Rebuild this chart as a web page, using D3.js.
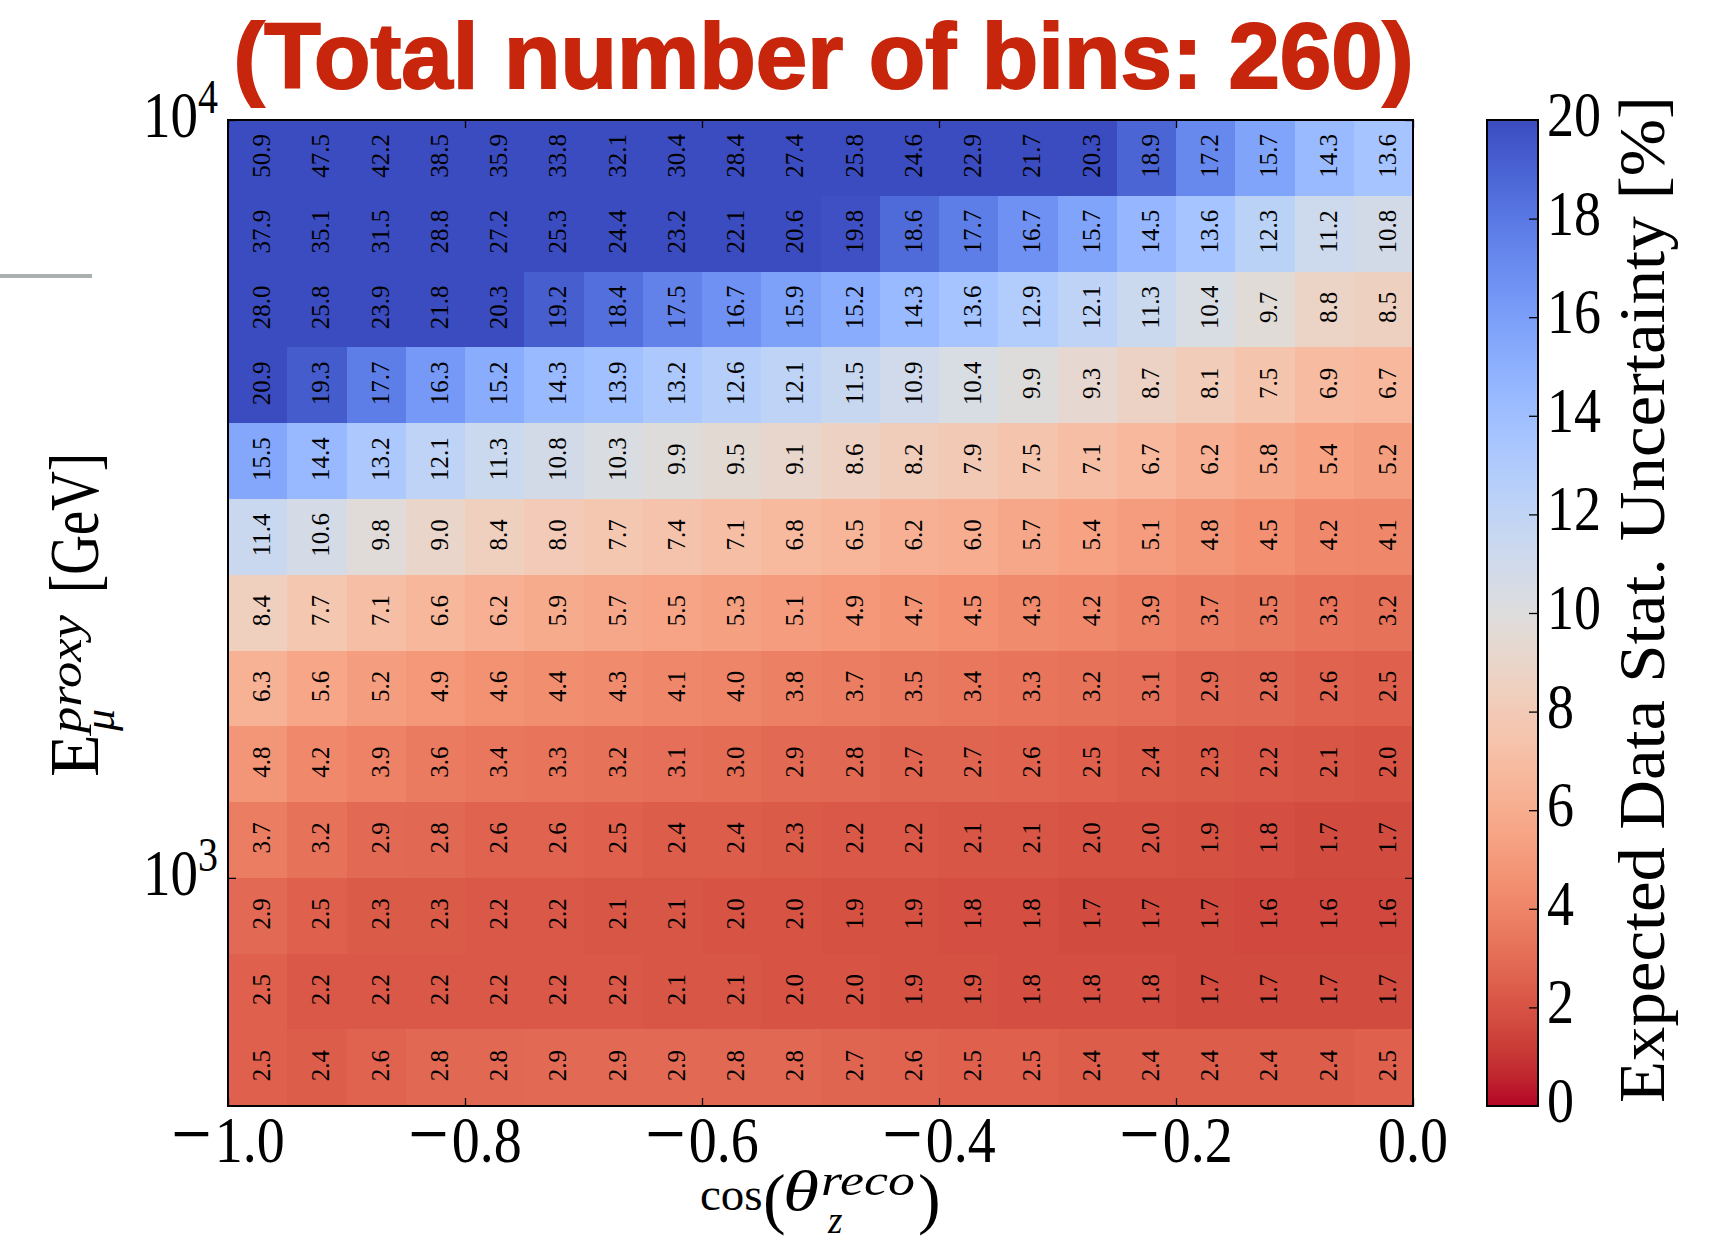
<!DOCTYPE html>
<html><head><meta charset="utf-8">
<script src="https://cdn.jsdelivr.net/npm/d3@7"></script>
<style>html,body{margin:0;padding:0;background:#fff;} svg{display:block}</style>
</head><body>
<svg id="chart" width="1712" height="1242"></svg>
<script>
// ---------------- DATA ----------------
const cosBinEdges = [-1.0,-0.95,-0.9,-0.85,-0.8,-0.75,-0.7,-0.65,-0.6,-0.55,-0.5,-0.45,-0.4,-0.35,-0.3,-0.25,-0.2,-0.15,-0.1,-0.05,0.0];
const energyBinEdges = [500,631,794,1000,1259,1585,1995,2512,3162,3981,5012,6310,7943,10000];
// rows listed from the highest energy bin (top) down to the lowest (bottom)
const statUncertainty = [
  [50.9,47.5,42.2,38.5,35.9,33.8,32.1,30.4,28.4,27.4,25.8,24.6,22.9,21.7,20.3,18.9,17.2,15.7,14.3,13.6],
  [37.9,35.1,31.5,28.8,27.2,25.3,24.4,23.2,22.1,20.6,19.8,18.6,17.7,16.7,15.7,14.5,13.6,12.3,11.2,10.8],
  [28.0,25.8,23.9,21.8,20.3,19.2,18.4,17.5,16.7,15.9,15.2,14.3,13.6,12.9,12.1,11.3,10.4,9.7,8.8,8.5],
  [20.9,19.3,17.7,16.3,15.2,14.3,13.9,13.2,12.6,12.1,11.5,10.9,10.4,9.9,9.3,8.7,8.1,7.5,6.9,6.7],
  [15.5,14.4,13.2,12.1,11.3,10.8,10.3,9.9,9.5,9.1,8.6,8.2,7.9,7.5,7.1,6.7,6.2,5.8,5.4,5.2],
  [11.4,10.6,9.8,9.0,8.4,8.0,7.7,7.4,7.1,6.8,6.5,6.2,6.0,5.7,5.4,5.1,4.8,4.5,4.2,4.1],
  [8.4,7.7,7.1,6.6,6.2,5.9,5.7,5.5,5.3,5.1,4.9,4.7,4.5,4.3,4.2,3.9,3.7,3.5,3.3,3.2],
  [6.3,5.6,5.2,4.9,4.6,4.4,4.3,4.1,4.0,3.8,3.7,3.5,3.4,3.3,3.2,3.1,2.9,2.8,2.6,2.5],
  [4.8,4.2,3.9,3.6,3.4,3.3,3.2,3.1,3.0,2.9,2.8,2.7,2.7,2.6,2.5,2.4,2.3,2.2,2.1,2.0],
  [3.7,3.2,2.9,2.8,2.6,2.6,2.5,2.4,2.4,2.3,2.2,2.2,2.1,2.1,2.0,2.0,1.9,1.8,1.7,1.7],
  [2.9,2.5,2.3,2.3,2.2,2.2,2.1,2.1,2.0,2.0,1.9,1.9,1.8,1.8,1.7,1.7,1.7,1.6,1.6,1.6],
  [2.5,2.2,2.2,2.2,2.2,2.2,2.2,2.1,2.1,2.0,2.0,1.9,1.9,1.8,1.8,1.8,1.7,1.7,1.7,1.7],
  [2.5,2.4,2.6,2.8,2.8,2.9,2.9,2.9,2.8,2.8,2.7,2.6,2.5,2.5,2.4,2.4,2.4,2.4,2.4,2.5]
];
const xTickValues = [-1.0,-0.8,-0.6,-0.4,-0.2,0.0];
const yTickValues = [1000,10000];
const colorbarTicks = [0,2,4,6,8,10,12,14,16,18,20];
const colorRange = [0,20];
const titleText = "(Total number of bins: 260)";
const colorbarLabel = "Expected Data Stat. Uncertainty [%]";
// matplotlib "coolwarm" anchor colours (blue -> red)
const coolwarm = ["#3b4cc0","#445acc","#4d68d7","#5775e1","#6282ea","#6c8ef1","#779af7","#82a5fb","#8db0fe","#98b9ff","#a3c2ff","#aec9fd","#b8d0f9","#c2d5f4","#ccd9ee","#d5dbe6","#dddddd","#e5d8d1","#ecd3c5","#f1ccb9","#f5c4ad","#f7bba0","#f7b194","#f7a687","#f49a7b","#f18d6f","#ec7f63","#e57058","#de604d","#d55042","#cb3e38","#c0282f","#b40426"];

// ---------------- LAYOUT ----------------
const L = 228, R = 1413, T = 120, B = 1106;
const svg = d3.select("#chart");
const serif = "'Liberation Serif', 'Times New Roman', serif";

const x = d3.scaleLinear().domain([-1, 0]).range([L, R]);
const y = d3.scaleLog().domain([energyBinEdges[0], energyBinEdges[energyBinEdges.length - 1]]).range([B, T]);

// coolwarm_r over [0,20]: value 20 -> blue, 0 -> red
const color = d3.scaleLinear()
  .domain(coolwarm.map((c, i) => colorRange[1] * (1 - i / (coolwarm.length - 1))))
  .range(coolwarm)
  .interpolate(d3.interpolateRgb)
  .clamp(true);

// ---------------- CELLS ----------------
const nRows = statUncertainty.length;
const cells = [];
statUncertainty.forEach((row, r) => {
  const eIdx = nRows - 1 - r;
  row.forEach((v, c) => {
    cells.push({v, x0: cosBinEdges[c], x1: cosBinEdges[c + 1], e0: energyBinEdges[eIdx], e1: energyBinEdges[eIdx + 1]});
  });
});

const gCells = svg.append("g").attr("shape-rendering", "crispEdges");
gCells.selectAll("rect").data(cells).join("rect")
  .attr("x", d => x(d.x0))
  .attr("y", d => y(d.e1))
  .attr("width", d => x(d.x1) - x(d.x0) + 0.5)
  .attr("height", d => y(d.e0) - y(d.e1) + 0.5)
  .attr("fill", d => color(d.v));

const fmt = d3.format(".1f");
svg.append("g").selectAll("text").data(cells).join("text")
  .attr("transform", d => {
    const cx = (x(d.x0) + x(d.x1)) / 2 + 4;
    const cy = (y(d.e0) + y(d.e1)) / 2 - 2;
    return `translate(${cx},${cy}) rotate(-90)`;
  })
  .attr("text-anchor", "middle")
  .attr("dominant-baseline", "central")
  .attr("font-family", serif)
  .attr("font-size", 25)
  .attr("fill", "#000")
  .text(d => fmt(d.v));

// ---------------- AXES (ticks) ----------------
function styleAxis(g) {
  g.select(".domain").remove();
  g.selectAll(".tick line").attr("stroke", "#000").attr("stroke-width", 1.3);
  g.selectAll(".tick text").remove();
}
svg.append("g").attr("transform", `translate(0,${B})`)
  .call(d3.axisBottom(x).tickValues(xTickValues).tickSize(-8).tickFormat("")).call(styleAxis);
svg.append("g").attr("transform", `translate(0,${T})`)
  .call(d3.axisTop(x).tickValues(xTickValues).tickSize(-8).tickFormat("")).call(styleAxis);
svg.append("g").attr("transform", `translate(${L},0)`)
  .call(d3.axisLeft(y).tickValues(yTickValues).tickSize(-8).tickFormat("")).call(styleAxis);
svg.append("g").attr("transform", `translate(${R},0)`)
  .call(d3.axisRight(y).tickValues(yTickValues).tickSize(-8).tickFormat("")).call(styleAxis);

svg.append("rect").attr("x", L).attr("y", T).attr("width", R - L).attr("height", B - T)
  .attr("fill", "none").attr("stroke", "#000").attr("stroke-width", 2);

// x tick labels
const xl = svg.append("g").selectAll("text").data(xTickValues).join("text")
  .attr("transform", d => `translate(${x(d)},${B + 56}) scale(1,1.17)`)
  .attr("text-anchor", "middle")
  .attr("font-family", serif)
  .attr("font-size", 56)
  .attr("fill", "#000");
xl.each(function(d) {
  const t = d3.select(this);
  if (d < 0) {
    t.append("tspan").attr("font-size", 72).text("\u2212");
    t.append("tspan").attr("dx", 3).text(Math.abs(d).toFixed(1));
  } else {
    t.append("tspan").text(d.toFixed(1));
  }
});

// y tick labels 10^n
const yl = svg.append("g").selectAll("text").data(yTickValues).join("text")
  .attr("transform", d => `translate(${L - 10},${y(d) + 17}) scale(1,1.2)`)
  .attr("text-anchor", "end")
  .attr("font-family", serif)
  .attr("fill", "#000");
yl.append("tspan").attr("font-size", 55).text("10");
yl.append("tspan").attr("font-size", 40).attr("dy", -20).text(d => Math.round(Math.log10(d)));

// y axis label
const yLab = svg.append("text")
  .attr("transform", `translate(98,777) rotate(-90)`)
  .attr("font-family", serif).attr("fill", "#000");
yLab.append("tspan").attr("x", 0).attr("y", 0).attr("font-size", 70).text("E");
yLab.append("tspan").attr("x", 44).attr("y", -17).attr("font-size", 46).attr("font-style", "italic")
  .attr("textLength", 118).attr("lengthAdjust", "spacingAndGlyphs").text("proxy");
yLab.append("tspan").attr("x", 46).attr("y", 16).attr("font-size", 44).attr("font-style", "italic").text("\u03bc");
yLab.append("tspan").attr("x", 184).attr("y", 0).attr("font-size", 70)
  .attr("textLength", 140).attr("lengthAdjust", "spacingAndGlyphs").text("[GeV]");

// x axis label  cos(θ_z^reco)
const xLab = svg.append("text").attr("font-family", serif).attr("fill", "#000");
xLab.append("tspan").attr("x", 700).attr("y", 1210).attr("font-size", 47).text("cos");
xLab.append("tspan").attr("x", 763).attr("y", 1221).attr("font-size", 68).text("(");
xLab.append("tspan").attr("x", 783).attr("y", 1210).attr("font-size", 56).attr("font-style", "italic")
  .attr("textLength", 36).attr("lengthAdjust", "spacingAndGlyphs").text("\u03b8");
xLab.append("tspan").attr("x", 821).attr("y", 1195).attr("font-size", 44).attr("font-style", "italic")
  .attr("textLength", 94).attr("lengthAdjust", "spacingAndGlyphs").text("reco");
xLab.append("tspan").attr("x", 828).attr("y", 1233).attr("font-size", 37).attr("font-style", "italic").text("z");
xLab.append("tspan").attr("x", 918).attr("y", 1221).attr("font-size", 68).text(")");

// ---------------- COLORBAR ----------------
const cbL = 1487, cbR = 1538;
const cb = d3.scaleLinear().domain(colorRange).range([B, T]);
const defs = svg.append("defs");
const grad = defs.append("linearGradient").attr("id", "cbgrad")
  .attr("x1", 0).attr("y1", 1).attr("x2", 0).attr("y2", 0);
d3.range(0, 101).forEach(i => {
  const v = colorRange[0] + (colorRange[1] - colorRange[0]) * i / 100;
  grad.append("stop").attr("offset", i / 100).attr("stop-color", color(v));
});
svg.append("rect").attr("x", cbL).attr("y", cb(colorRange[1])).attr("width", cbR - cbL)
  .attr("height", cb(colorRange[0]) - cb(colorRange[1])).attr("fill", "url(#cbgrad)");
svg.append("g").attr("transform", `translate(${cbR},0)`)
  .call(d3.axisRight(cb).tickValues(colorbarTicks.slice(1, -1)).tickSize(-9).tickFormat("")).call(styleAxis);
svg.append("rect").attr("x", cbL).attr("y", cb(colorRange[1])).attr("width", cbR - cbL)
  .attr("height", cb(colorRange[0]) - cb(colorRange[1])).attr("fill", "none")
  .attr("stroke", "#000").attr("stroke-width", 2);

svg.append("g").selectAll("text").data(colorbarTicks).join("text")
  .attr("transform", d => `translate(${cbR + 9},${cb(d) + 16}) scale(1,1.19)`)
  .attr("font-family", serif).attr("font-size", 54).attr("fill", "#000")
  .text(d => d);

svg.append("text")
  .attr("transform", `translate(1664,599.5) rotate(-90)`)
  .attr("text-anchor", "middle")
  .attr("font-family", serif).attr("font-size", 66).attr("fill", "#000")
  .attr("textLength", 1007).attr("lengthAdjust", "spacingAndGlyphs")
  .text(colorbarLabel);

// ---------------- TITLE & decoration ----------------
svg.append("text")
  .attr("x", 823.5).attr("y", 88)
  .attr("text-anchor", "middle")
  .attr("font-family", "'Liberation Sans', Arial, Helvetica, sans-serif")
  .attr("font-weight", "bold").attr("font-size", 93)
  .attr("fill", "#c8260c").attr("stroke", "#c8260c").attr("stroke-width", 2)
  .attr("textLength", 1180).attr("lengthAdjust", "spacingAndGlyphs")
  .text(titleText);

svg.append("rect").attr("x", 0).attr("y", 274).attr("width", 92).attr("height", 4).attr("fill", "#abafaf");
</script>
</body></html>
